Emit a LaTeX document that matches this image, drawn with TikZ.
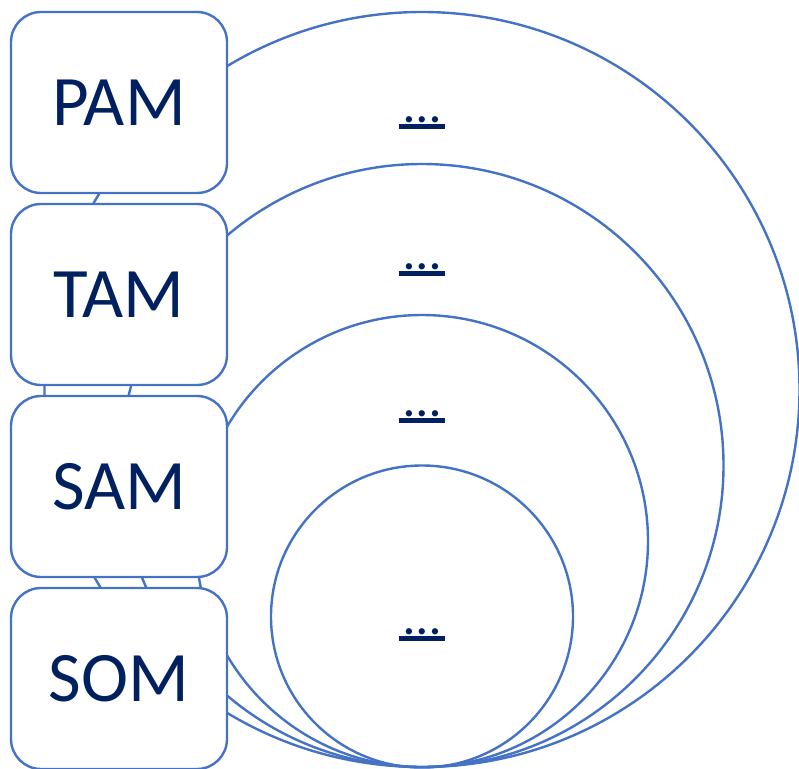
\documentclass[tikz,border=0pt]{standalone}
\usepackage{fontspec}
\setmainfont{Carlito}
\definecolor{lblue}{HTML}{4472C4}
\definecolor{navy}{HTML}{002060}
\begin{document}
\begin{tikzpicture}[x=1pt,y=-1pt,
  ring/.style={draw=lblue,line width=2.4pt},
  box/.style={draw=lblue,line width=2.4pt,fill=white,rounded corners=30pt,minimum width=216pt,minimum height=181pt,inner sep=0pt,text=navy,font=\fontsize{71}{71}\selectfont},
  dots/.style={text=navy,font=\fontsize{52}{52}\selectfont,inner sep=0pt,anchor=base}]
\useasboundingbox (0,0) rectangle (799,768);
\draw[ring] (422,389.5) circle[radius=377.5];
\draw[ring] (422,465.5) circle[radius=301.5];
\draw[ring] (422,541) circle[radius=226];
\draw[ring] (422,616.5) circle[radius=151];
\node[box] (pam) at (119,102.5) {PAM};
\node[box] (tam) at (119,294.5) {TAM};
\node[box] (sam) at (119,486.5) {SAM};
\node[box] (som) at (119,678.5) {SOM};
\foreach \n/\y in {d1/122,d2/269,d3/416,d4/634}{
  \node[dots] (\n) at (422,\y) {…};
  \fill[navy] (399,\y+2) rectangle (445,\y+7);
}
\end{tikzpicture}
\end{document}
